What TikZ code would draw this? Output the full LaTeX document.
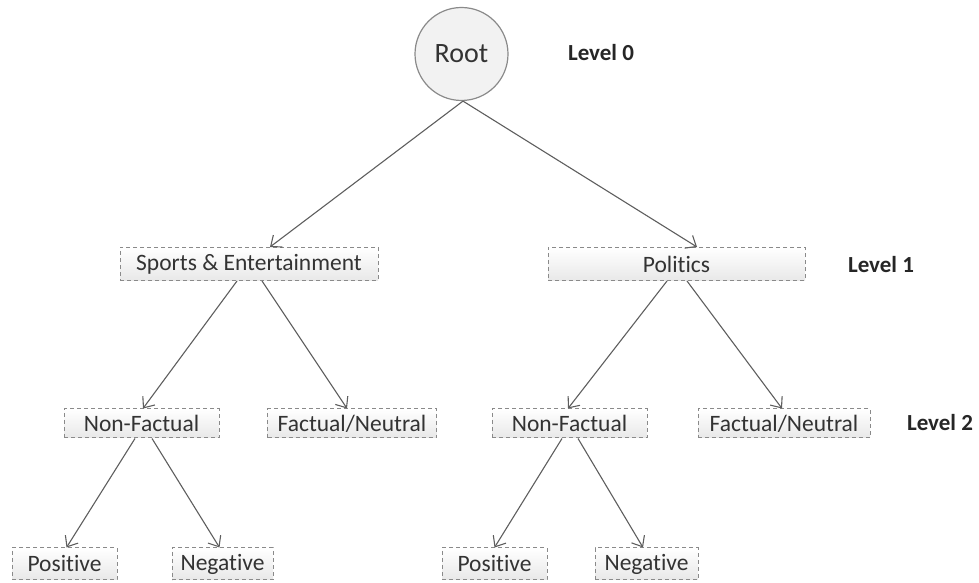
\documentclass[tikz,border=0pt]{standalone}
\usepackage{fontspec}
\setmainfont{Carlito}[Ligatures=NoCommon]
\usetikzlibrary{arrows.meta}
\definecolor{txt}{HTML}{333333}
\definecolor{edge}{HTML}{8A8A8A}
\definecolor{wire}{HTML}{5E5E5E}
\begin{document}
\begin{tikzpicture}[x=1pt,y=1pt,
  font=\fontsize{23.5}{27}\selectfont, text=txt,
  catbox/.style={draw=edge, line width=1pt, dash pattern=on 4pt off 3pt,
    top color=white, bottom color=black!9, inner sep=0pt},
  rootnode/.style={circle, draw=edge, line width=1.2pt, fill=black!5,
    minimum size=93pt, inner sep=0pt, font=\fontsize{28}{32}\selectfont},
  levellabel/.style={font=\fontsize{23}{26}\selectfont\bfseries, text=black!85},
  link/.style={draw=wire, line width=1.1pt,
    -{Straight Barb[length=9pt,width=15pt,line width=1.1pt]}}
]
\useasboundingbox (0,0) rectangle (979,583);

% root and level captions
\node[rootnode] (root) at (461.5,529) {Root};
\node[levellabel] (lv0) at (601,530) {Level 0};
\node[levellabel] (lv1) at (881,318) {Level 1};
\node[levellabel] (lv2) at (940,160) {Level 2};

% level 1
\node[catbox, minimum width=258pt, minimum height=33pt] (sports) at (249,319) {Sports \& Entertainment};
\node[catbox, minimum width=257pt, minimum height=33pt] (politics) at (676.5,319) {Politics};

% level 2
\node[catbox, minimum width=155pt, minimum height=29pt] (nfl) at (141.5,159.5) {Non-Factual};
\node[catbox, minimum width=169pt, minimum height=29pt] (fnl) at (352,159.5) {Factual/Neutral};
\node[catbox, minimum width=155pt, minimum height=29pt] (nfr) at (569.5,159.5) {Non-Factual};
\node[catbox, minimum width=172pt, minimum height=29pt] (fnr) at (784,159.5) {Factual/Neutral};

% leaves
\node[catbox, minimum width=105pt, minimum height=32pt] (posl) at (64.5,19) {Positive};
\node[catbox, minimum width=101pt, minimum height=32pt] (negl) at (222.5,19) {Negative};
\node[catbox, minimum width=105pt, minimum height=32pt] (posr) at (494.5,19) {Positive};
\node[catbox, minimum width=103pt, minimum height=32pt] (negr) at (646.5,19) {Negative};

% connectors
\draw[link] ([xshift=1.5pt]root.south) -- ([xshift=21pt]sports.north);
\draw[link] ([xshift=1.5pt]root.south) -- ([xshift=20.5pt]politics.north);

\draw[link] ([xshift=-12pt]sports.south) -- ([xshift=1.5pt]nfl.north);
\draw[link] ([xshift=13pt]sports.south) -- ([xshift=-5pt]fnl.north);
\draw[link] ([xshift=-9.5pt]politics.south) -- ([xshift=-1.5pt]nfr.north);
\draw[link] ([xshift=10.5pt]politics.south) -- ([xshift=-2pt]fnr.north);

\draw[link] ([xshift=-6.5pt]nfl.south) -- ([xshift=2pt]posl.north);
\draw[link] ([xshift=10.5pt]nfl.south) -- ([xshift=-3pt]negl.north);
\draw[link] ([xshift=-7.5pt]nfr.south) -- ([xshift=0pt]posr.north);
\draw[link] ([xshift=8.5pt]nfr.south) -- ([xshift=-3.5pt]negr.north);
\end{tikzpicture}
\end{document}
